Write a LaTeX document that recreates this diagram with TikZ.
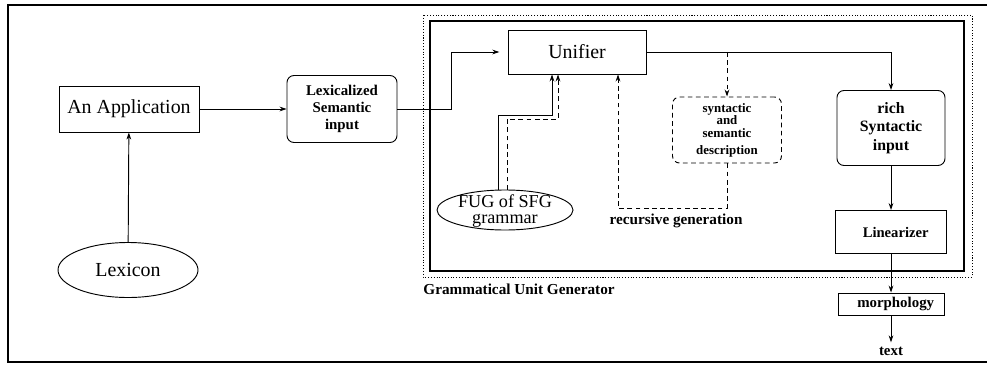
\documentclass[tikz,border=0pt]{standalone}
\usepackage{fontspec}
\setmainfont{Liberation Serif}
\usetikzlibrary{positioning}
\usetikzlibrary{shapes}
\usetikzlibrary{arrows.meta}

\begin{document}
\begin{tikzpicture}[x=0.03cm, y=-0.03cm, >={Stealth[length=6pt,width=4pt]}, line width=0.8pt]
	\tikzset{blok/.style={draw, align=center, inner sep=1pt},
		rblok/.style={blok, rounded corners=6pt},
		grote/.style={font=\fontsize{17}{19}\selectfont},
		klein/.style={font=\bfseries\fontsize{12.7}{14.5}\selectfont},
		streep/.style={dash pattern=on 4pt off 3pt},
		stip/.style={dash pattern=on 0.9pt off 1.5pt}}
	\useasboundingbox (0,0) rectangle (987,368);
	\draw[line width=1.3pt] (987,5) -- (8,5) -- (8,362) -- (987,362);
	% grammatical unit generator
	\draw[stip] (423,15) rectangle (972,277);
	\draw[line width=1.6pt] (430,21) rectangle (964,271);
	\node[anchor=west, inner sep=0pt, font=\bfseries\fontsize{13}{15}\selectfont] (guglabel) at (423,289) {Grammatical Unit Generator};
	% left part
	\node[blok, grote, minimum width=4.2cm, minimum height=1.38cm] (app) at (129,109) {An Application};
	\node[ellipse, draw, grote, minimum width=4.2cm, minimum height=1.65cm] (lexicon) at (128,270) {Lexicon};
	\node[rblok, klein, minimum width=3.3cm, minimum height=2.01cm] (lexsem) at (342,109) {Lexicalized\\Semantic\\input};
	% inside the generator
	\node[blok, grote, minimum width=4.14cm, minimum height=1.32cm] (unifier) at (577,52) {Unifier};
	\node[ellipse, draw, minimum width=4.08cm, minimum height=1.2cm] (fug) at (505,210) {};
	\node[align=center, inner sep=0pt, font=\fontsize{15.5}{17}\selectfont] (fugtext) at (505,211) {FUG of SFG\\[-3pt]grammar};
	\node[rblok, streep, font=\bfseries\fontsize{11}{11}\selectfont, minimum width=3.27cm, minimum height=1.98cm] (syndesc) at (727,130) {syntactic\\and\\semantic\\[3pt]description};
	\node[klein, font=\bfseries\fontsize{13}{15}\selectfont] (recgen) at (676,221) {recursive generation};
	\node[rblok, font=\bfseries\fontsize{13.5}{16}\selectfont, minimum width=3.24cm, minimum height=2.25cm] (rich) at (891,128) {rich\\Syntactic\\input};
	\node[blok, font=\bfseries\fontsize{12.5}{15}\selectfont, minimum width=3.33cm, minimum height=1.29cm] (linear) at (891,232) {\hspace{8pt}Linearizer};
	\node[blok, klein, minimum width=3.18cm, minimum height=0.66cm] (morph) at (891,304) {\hspace{8pt}morphology};
	\node[klein] (textout) at (891,351) {text};
	% connectors
	\coordinate (knik) at (451,52);
	\coordinate (s1) at (498,115);
	\coordinate (s2) at (552,0);
	\coordinate (d1) at (507,119);
	\coordinate (d2) at (558,0);
	\coordinate (r1) at (618,208);
	\draw[->] (lexicon) -- (app);
	\draw[->] (app) -- (lexsem);
	\draw[->, shorten >=7pt] (lexsem.east) -| (knik) -- (unifier.west);
	\draw[->] (fug.north -| s1) -- (s1) -| (unifier.south -| s2);
	\draw[->, streep] (fug.north -| d1) -- (d1) -| (unifier.south -| d2);
	\draw[->, streep] (syndesc.south) |- (r1) -- (unifier.south -| r1);
	\draw[->] (unifier.east) -| (rich.north);
	\draw[->, streep] (syndesc.north |- unifier.east) -- (syndesc.north);
	\draw[->] (rich) -- (linear);
	\draw[->] (linear) -- (morph);
	\draw[->] (morph) -- (textout);
\end{tikzpicture}
\end{document}
